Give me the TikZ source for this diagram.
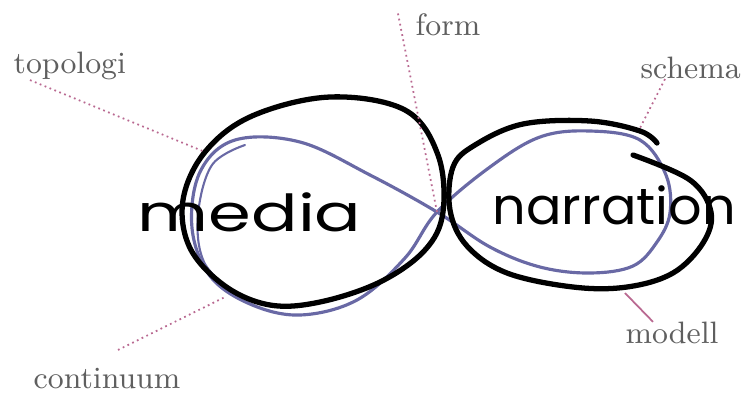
\documentclass[tikz,border=0pt]{standalone}
\usepackage{fontspec}
\newfontfamily\handfont{Poppins}
\usetikzlibrary{positioning}
\definecolor{lblgray}{RGB}{95,95,95}
\definecolor{penblue}{RGB}{105,105,165}
\definecolor{leadpink}{RGB}{185,105,145}

\begin{document}
\begin{tikzpicture}[
      x=0.01cm, y=-0.01cm,
      lbl/.style={font=\fontsize{8.8}{10}\selectfont, text=lblgray, inner sep=0pt, anchor=base west},
      hand/.style={font=\handfont\fontsize{14.5}{16}\selectfont, inner sep=0pt, anchor=base west},
      loop/.style={line width=1.5pt, black, line cap=round, line join=round},
      eight/.style={line width=0.9pt, draw=penblue, line cap=round},
      lead/.style={densely dotted, line width=0.5pt, draw=leadpink}
    ]
    \useasboundingbox (0,0) rectangle (750,393);

    % ===== blue figure eight =====
    \draw[eight] plot[smooth cycle, tension=0.6] coordinates {
      (437,212) (490,167) (540,137) (590,131) (640,140) (666,175) (670,213)
      (657,242) (633,266) (590,273) (540,267) (490,247) (437,212) (370,175)
      (300,142) (235,140) (200,172) (192,228) (210,276) (250,304) (300,315)
      (357,300) (405,258)};
    \draw[eight, line width=0.6pt] plot[smooth, tension=0.6] coordinates {
      (245,145) (212,165) (198,215) (204,262) (235,295)};

    % ===== black loops =====
    \draw[loop] plot[smooth cycle, tension=0.6] coordinates {
      (330,97) (405,110) (438,155) (443,212) (425,250) (380,282) (320,302)
      (270,305) (225,286) (190,248) (183,200) (205,152) (252,116)};
    \draw[loop] plot[smooth, tension=0.6] coordinates {
      (633,155) (690,180) (711,212) (703,243) (673,273) (627,287) (573,287)
      (507,273) (467,246) (450,210) (453,167) (475,145) (523,124) (590,121)
      (640,131) (657,143)};

    % ===== handwritten words =====
    \node[hand, xscale=1.35] (media) at (137,231) {media};
    \node[hand, xscale=1.03] (narr)  at (492,224) {narration};

    % ===== labels =====
    \node[lbl] (topologi)  at (13,73)  {topologi};
    \node[lbl] (form)      at (415,35) {form};
    \node[lbl] (schema)    at (640,78) {schema};
    \node[lbl] (continuum) at (33,388) {continuum};
    \node[lbl] (modell)    at (625,343) {modell};

    % leader ends on the loops
    \coordinate (cTop)  at (205,152);
    \coordinate (cX)    at (437,212);
    \coordinate (cR)    at (640,128);
    \coordinate (cBot)  at (225,297);
    \coordinate (cRb)   at (625,293);

    % ===== leaders =====
    \draw[lead] ([shift={(17,0)}]topologi.south west) -- (cTop);
    \draw[lead] ([shift={(-17,1)}]form.north west) -- (cX);
    \draw[lead] ([shift={(25,0)}]schema.south west) -- (cR);
    \draw[lead] ([shift={(85,-17)}]continuum.north west) -- (cBot);
    \draw[lead, solid] (cRb) -- ([shift={(28,1)}]modell.north west);
\end{tikzpicture}
\end{document}
